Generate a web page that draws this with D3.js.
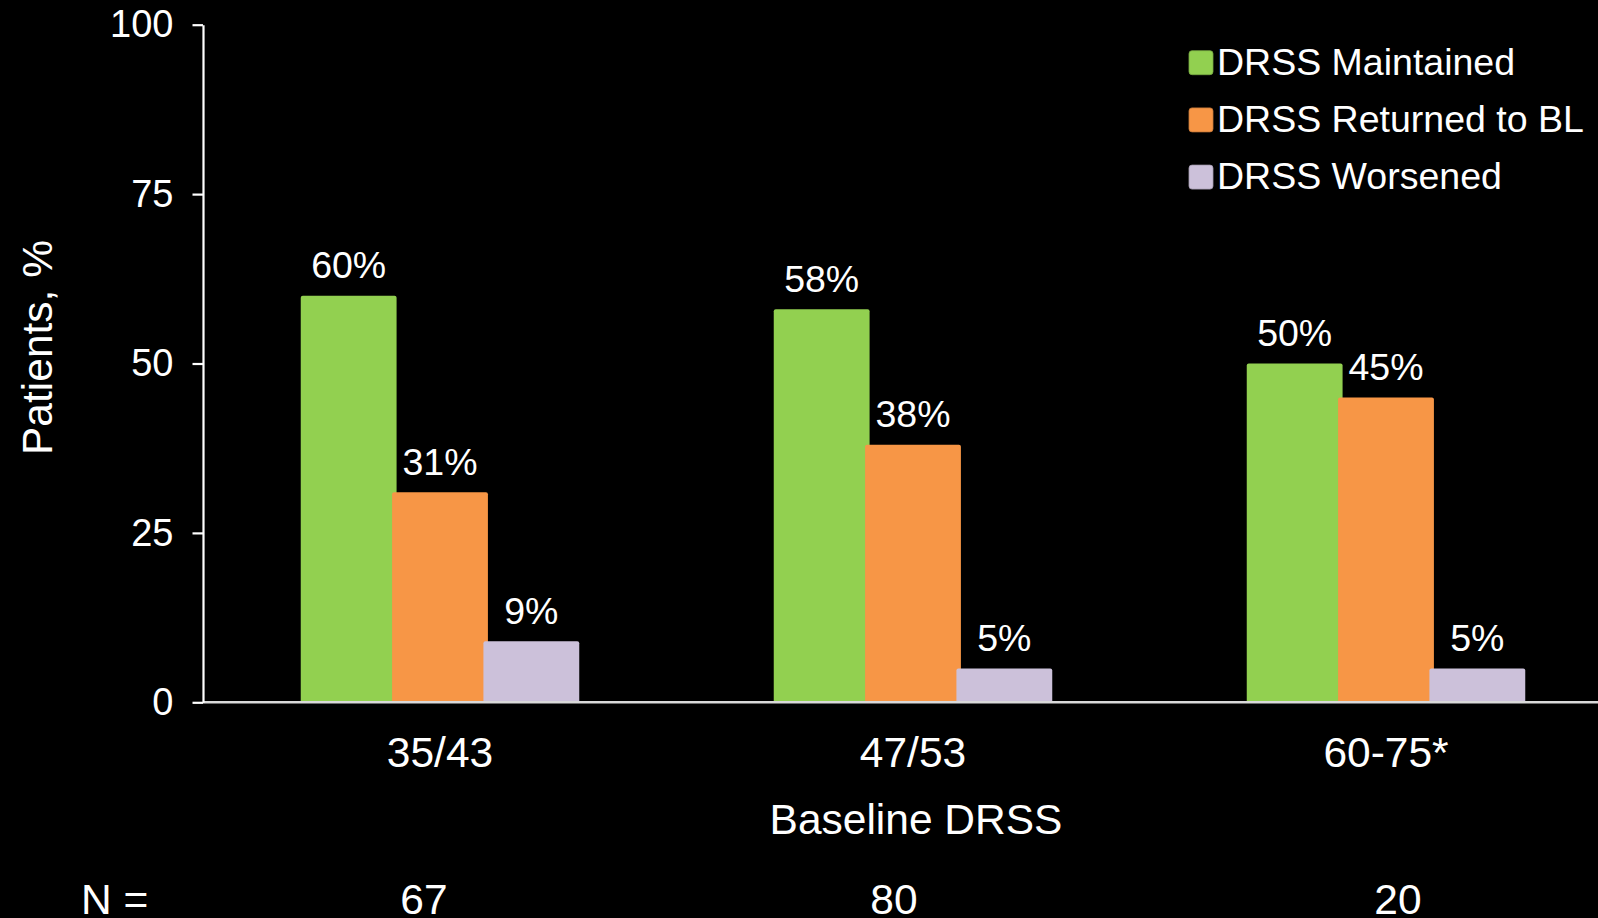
<!DOCTYPE html>
<html>
<head>
<meta charset="utf-8">
<script src="https://cdn.jsdelivr.net/npm/d3@7/dist/d3.min.js"></script>
<style>
  html, body { margin: 0; padding: 0; background: #000; overflow: hidden; }
  svg { display: block; font-family: "Liberation Sans", Arial, sans-serif; }
  text { fill: #fff; }
</style>
</head>
<body>
<svg id="chart" width="1598" height="918"></svg>
<script>
// Baseline DRSS groups and patient counts
const categories = ["35/43", "47/53", "60-75*"];
const nCounts = ["67", "80", "20"];

// Outcome series (percent of patients)
const seriesNames = ["DRSS Maintained", "DRSS Returned to BL", "DRSS Worsened"];
const maintained = [60, 58, 50];
const returnedToBL = [31, 38, 45];
const worsened = [9, 5, 5];

// Axis ticks
const yTicks = [0, 25, 50, 75, 100];

const seriesColors = ["#92D050", "#F79646", "#CCC1DA"];
const seriesValues = [maintained, returnedToBL, worsened];

const svg = d3.select("#chart");
const W = 1598, H = 918;

svg.append("rect").attr("width", W).attr("height", H).attr("fill", "#000");

const axisX = 203;
const y = d3.scaleLinear().domain([0, 100]).range([702.3, 24.7]);
const x = d3.scaleBand().domain(categories).range([203.5, 1622.5]).padding(0);
const x1 = d3.scaleBand().domain(seriesNames).range([-137, 137]).padding(0);
const barOverlap = 4.5;
const barW = x1.bandwidth() + barOverlap;

// Bars, one group per baseline category
const rows = [];
categories.forEach((c, ci) => {
  seriesNames.forEach((s, si) => {
    rows.push({ cat: c, series: s, value: seriesValues[si][ci], color: seriesColors[si] });
  });
});

const barCenter = d => x(d.cat) + x.bandwidth() / 2 + x1(d.series) + x1.bandwidth() / 2;

svg.append("g").selectAll("rect")
  .data(rows)
  .join("rect")
  .attr("x", d => barCenter(d) - barW / 2)
  .attr("y", d => y(d.value))
  .attr("width", barW)
  .attr("height", d => y(0) - y(d.value))
  .attr("rx", 2)
  .attr("fill", d => d.color);

// Value labels above each bar
svg.append("g").selectAll("text")
  .data(rows)
  .join("text")
  .attr("x", d => barCenter(d))
  .attr("y", d => y(d.value) - 17.5)
  .attr("text-anchor", "middle")
  .style("font-size", "37.5px")
  .text(d => d.value + "%");

// Horizontal baseline
svg.append("line")
  .attr("x1", axisX).attr("x2", W)
  .attr("y1", y(0)).attr("y2", y(0))
  .attr("stroke", "#d9d9d9")
  .attr("stroke-width", 2.5);

// Y axis
const yAxis = svg.append("g")
  .attr("transform", `translate(${axisX},0)`)
  .call(d3.axisLeft(y).tickValues(yTicks).tickSize(10.5).tickSizeOuter(0).tickPadding(19));
yAxis.select(".domain").attr("stroke", "#fff").attr("stroke-width", 2.2);
yAxis.selectAll(".tick line").attr("stroke", "#fff").attr("stroke-width", 2.2);
yAxis.selectAll(".tick text")
  .attr("fill", "#fff")
  .style("font-size", "38px")
  .style("font-family", "\"Liberation Sans\", Arial, sans-serif");

// Y axis title
svg.append("text")
  .attr("transform", "translate(52,347.5) rotate(-90)")
  .attr("text-anchor", "middle")
  .style("font-size", "42.5px")
  .text("Patients, %");

// Category labels
svg.append("g").selectAll("text")
  .data(categories)
  .join("text")
  .attr("x", d => x(d) + x.bandwidth() / 2)
  .attr("y", 766.5)
  .attr("text-anchor", "middle")
  .style("font-size", "42.5px")
  .text(d => d);

// X axis title
svg.append("text")
  .attr("x", 916)
  .attr("y", 833.5)
  .attr("text-anchor", "middle")
  .style("font-size", "42.5px")
  .text("Baseline DRSS");

// Patient counts row
svg.append("text")
  .attr("x", 81)
  .attr("y", 913.5)
  .style("font-size", "42.5px")
  .text("N =");

const nNudge = [-16, -19, 12];
svg.append("g").selectAll("text")
  .data(nCounts)
  .join("text")
  .attr("x", (d, i) => x(categories[i]) + x.bandwidth() / 2 + nNudge[i])
  .attr("y", 913.5)
  .attr("text-anchor", "middle")
  .style("font-size", "42.5px")
  .text(d => d);

// Legend
const legend = svg.append("g").attr("transform", "translate(1189,50.7)");
const item = legend.selectAll("g")
  .data(seriesNames)
  .join("g")
  .attr("transform", (d, i) => `translate(0,${i * 57.2})`);
item.append("rect")
  .attr("width", 24).attr("height", 24)
  .attr("rx", 3)
  .attr("fill", (d, i) => seriesColors[i])
  .attr("stroke", (d, i) => d3.color(seriesColors[i]).darker(0.6))
  .attr("stroke-width", 0.8);
item.append("text")
  .attr("x", 28)
  .attr("y", 24)
  .style("font-size", "37.5px")
  .text(d => d);
</script>
</body>
</html>
